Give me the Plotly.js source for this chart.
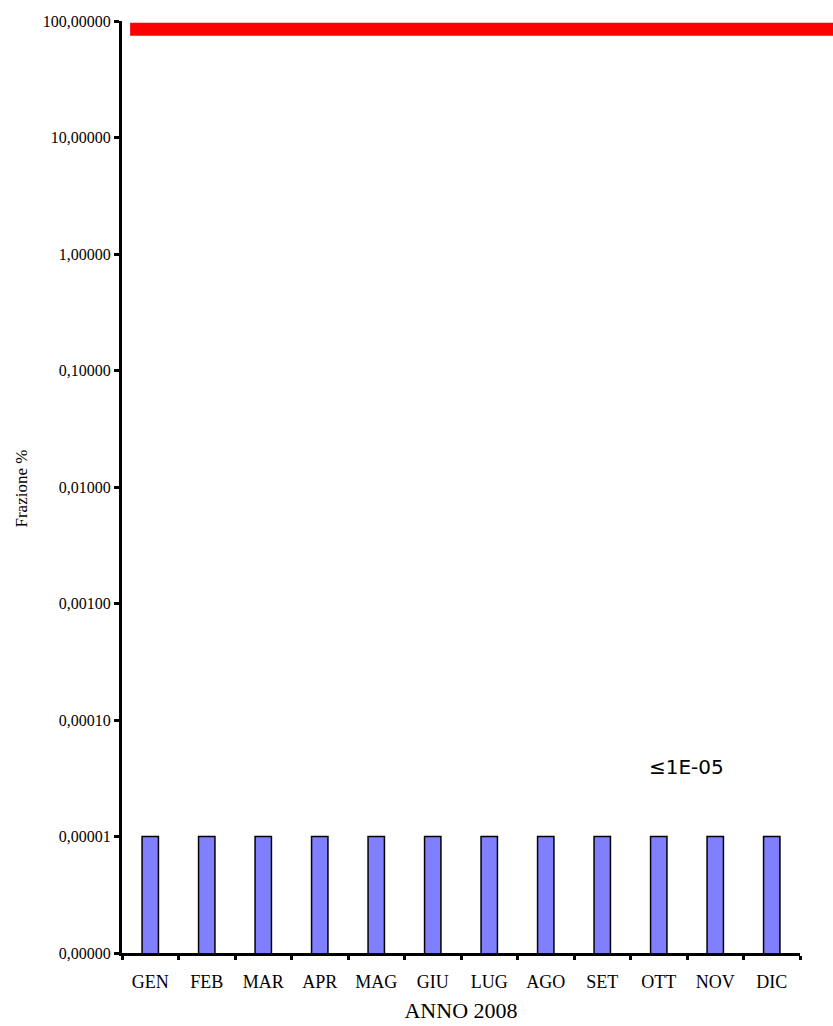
<!DOCTYPE html>
<html>
<head>
<meta charset="utf-8">
<script src="https://cdn.plot.ly/plotly-3.0.1.min.js"></script>
<style>html,body{margin:0;padding:0;background:#fff;}#chart{width:833px;height:1026px;}</style>
</head>
<body>
<div id="chart"></div>
<script>
const months = ["GEN","FEB","MAR","APR","MAG","GIU","LUG","AGO","SET","OTT","NOV","DIC"];
const values = [0.00001,0.00001,0.00001,0.00001,0.00001,0.00001,0.00001,0.00001,0.00001,0.00001,0.00001,0.00001];
const limitValue = 85;
const yTickVals = [0.000001,0.00001,0.0001,0.001,0.01,0.1,1,10,100];
const yTickText = ["0,00000","0,00001","0,00010","0,00100","0,01000","0,10000","1,00000","10,00000","100,00000"];
const noteText = "≤1E-05";
const yTitleText = "Frazione %";

const serif = "Liberation Serif, Times New Roman, serif";

const trace = {
  type: "bar",
  x: months,
  y: values,
  width: 0.29,
  marker: {color: "#8080FF", line: {color: "#000000", width: 1.5}},
  hoverinfo: "x+y"
};

const layout = {
  width: 833, height: 1026,
  margin: {l: 122, r: 33, t: 21, b: 73},
  paper_bgcolor: "#ffffff",
  plot_bgcolor: "#ffffff",
  showlegend: false,
  xaxis: {
    type: "category",
    tickson: "boundaries",
    ticks: "outside", ticklen: 4, tickwidth: 3, tickcolor: "#000",
    showline: true, linecolor: "#000", linewidth: 3,
    showgrid: false, zeroline: false,
    ticklabelstandoff: 10,
    tickfont: {family: serif, size: 18, color: "#000"},
    title: {text: "ANNO 2008", font: {family: serif, size: 22, color: "#000"}, standoff: 13}
  },
  yaxis: {
    type: "log",
    range: [-6, 2],
    tickvals: yTickVals,
    ticktext: yTickText,
    ticks: "outside", ticklen: 5, tickwidth: 3, tickcolor: "#000",
    showline: true, linecolor: "#000", linewidth: 3,
    showgrid: false, zeroline: false,
    tickfont: {family: serif, size: 16, color: "#000"}
  },
  shapes: [{
    type: "line", xref: "paper", yref: "y",
    x0: 0.012, x1: 1.06, y0: limitValue, y1: limitValue,
    line: {color: "#FF0000", width: 13}
  }],
  annotations: [{
    xref: "paper", yref: "paper", x: 0.832, y: 0.2,
    xanchor: "center", yanchor: "middle",
    text: noteText, showarrow: false,
    font: {family: "DejaVu Sans", size: 20, color: "#000"}
  }, {
    xref: "paper", yref: "paper", x: -0.148, y: 0.498,
    xanchor: "center", yanchor: "middle", textangle: -90,
    text: yTitleText, showarrow: false,
    font: {family: serif, size: 17, color: "#000"}
  }]
};

Plotly.newPlot("chart", [trace], layout, {displayModeBar: false, staticPlot: true});
</script>
</body>
</html>
